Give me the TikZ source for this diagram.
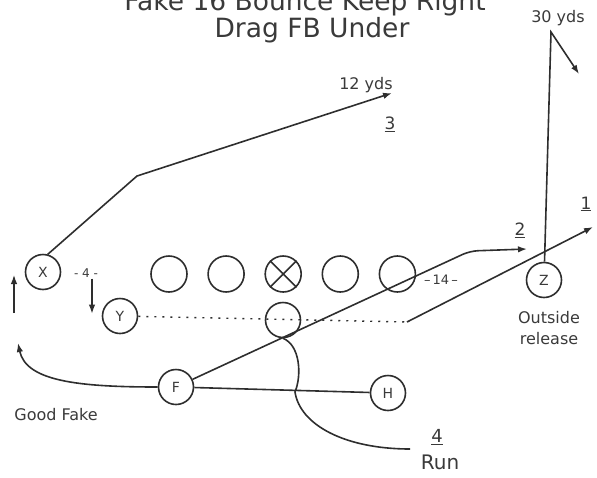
\documentclass[tikz,border=0pt]{standalone}
\usepackage{fontspec}
\setmainfont{DejaVu Sans}
\usetikzlibrary{arrows.meta,positioning}
\definecolor{cInk}{HTML}{2E2E2E}
\definecolor{cText}{HTML}{3A3A3A}
\tikzset{
  >={Latex[length=9pt,width=6.5pt]},
  player/.style ={circle,draw=cInk,line width=1.6pt,minimum size=35pt,inner sep=0pt,text=cText,font=\fontsize{14}{14}\selectfont},
  lineman/.style={player,minimum size=36pt},
  route/.style={cInk,line width=1.6pt},
  rar/.style  ={route,->},
  block/.style={cInk,line width=1.4pt,dash pattern=on 2pt off 6pt},
  ttl/.style  ={text=cText,inner sep=0pt,anchor=base,font=\fontsize{26.5}{30}\selectfont},
  lbl/.style  ={text=cText,inner sep=1pt,font=\fontsize{16}{21}\selectfont},
  num/.style  ={text=cText,inner sep=1pt,font=\fontsize{17}{19}\selectfont},
  tick/.style ={text=cText,inner sep=1pt,font=\fontsize{12}{12}\selectfont},
}

\begin{document}
\begin{tikzpicture}[x=1pt,y=-1pt]
\useasboundingbox (0,0) rectangle (597,477);
\node[ttl] (t1) at (305,10) {Fake 16 Bounce Keep Right};
\node[ttl] (t2) at (312,37) {Drag FB Under};
\node[player] (x) at (43,272) {X};
\node[lineman] (lt) at (169,274) {};
\node[lineman,right=19.5pt of lt] (lg) {};
\node[lineman,right=19.5pt of lg] (c) {};
\node[lineman,right=19.5pt of c] (rg) {};
\node[lineman,right=19.5pt of rg] (rt) {};
\draw[route] (c.north west)--(c.south east) (c.north east)--(c.south west);
\node[player] (y) at (120,316) {Y};
\node[player] (qb) at (283,320) {};
\node[player] (f) at (176,387) {F};
\node[player] (h) at (388,393) {H};
\node[player] (z) at (544,280) {Z};
\coordinate (k3) at (137,176);
\coordinate (e3) at (392,93);
\draw[rar] (x.75) -- (k3) -- (e3);
\node[lbl] (yd12) at (366,85) {12 yds};
\node[num] (n3) at (390,124) {\underline{3}};
\coordinate (b2) at (470,251);
\coordinate (e2) at (527,249);
\draw[rar,rounded corners=8pt] (f) -- (b2) -- (e2);
\node[num] (n2) at (520,230) {\underline{2}};
\coordinate (d1) at (407,322);
\coordinate (e1) at (593,227);
\draw[block] (y) -- (d1);
\draw[rar] (d1) -- (e1);
\node[num] (n1) at (586,204) {\underline{1}};
\coordinate (t30) at (551,32);
\coordinate (e30) at (579,74);
\draw[rar] (z) -- (t30) -- (e30);
\node[lbl] (yd30) at (558,18) {30 yds};
\node[lbl,align=center] (out) at (549,328) {Outside\\release};
\draw[route] (f) -- (h);
\coordinate (gf) at (18,343);
\draw[rar] (f.west) .. controls +(-80,0) and +(8,38) .. (gf);
\node[lbl] (gfk) at (56,415) {Good Fake};
\coordinate (u0) at (14,313);
\coordinate (u1) at (14,275);
\draw[rar,line width=1.2pt] (u0) -- (u1);
\node[tick] (m4) at (86,273) {- 4 -};
\draw[rar,line width=1.2pt] ([xshift=6pt]m4.south) -- ++(0,35);
\node[tick,font=\fontsize{13}{13}\selectfont] (m14) at (441,280) {\textendash\,14\,\textendash};
\coordinate (r4) at (410,449);
\draw[route] (qb.south) .. controls (300,345) and (302,375) .. (295,392)
  .. controls (300,425) and (345,449) .. (r4);
\node[num,font=\fontsize{18}{18}\selectfont] (n4) at (437,437) {\underline{4}};
\node[lbl,font=\fontsize{20}{20}\selectfont] (run) at (440,462) {Run};
\end{tikzpicture}
\end{document}
